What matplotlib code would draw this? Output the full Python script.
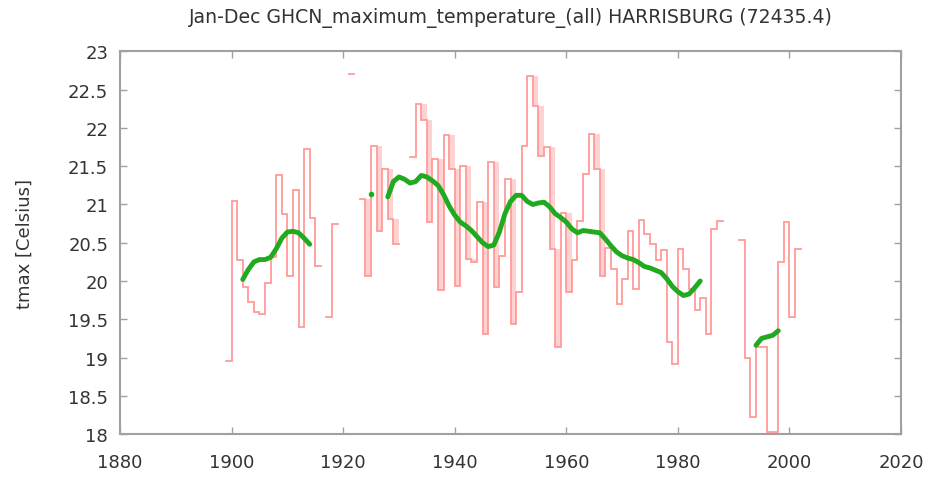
import matplotlib
matplotlib.use('Agg')
import matplotlib.pyplot as plt
import numpy as np
from matplotlib import ticker

nan = np.nan

# annual mean of daily max temperature (red steps), year -> value
years = np.arange(1899, 2002)
tmax = np.array([
    18.96,                                                      # 1899
    21.05, 20.28, 19.92, 19.72, 19.60, 19.57, 19.98, 20.31, 21.38, 20.88,  # 1900-1909
    20.07, 21.19, 19.40, 21.72, 20.82, 20.20, nan, 19.53, 20.75, nan,     # 1910-1919
    nan, 22.70, nan, 21.07, 20.07, 21.77, 20.66, 21.47, 20.81, 20.49,     # 1920-1929
    nan, nan, 21.62, 22.31, 22.10, 20.77, 21.60, 19.88, 21.91, 21.47,     # 1930-1939
    19.94, 21.50, 20.29, 20.25, 21.03, 19.31, 21.55, 19.92, 20.33, 21.33, # 1940-1949
    19.44, 19.86, 21.77, 22.68, 22.29, 21.64, 21.75, 20.42, 19.14, 20.89, # 1950-1959
    19.86, 20.27, 20.79, 21.40, 21.92, 21.47, 20.07, 20.43, 20.16, 19.70, # 1960-1969
    20.03, 20.66, 19.90, 20.80, 20.62, 20.49, 20.27, 20.41, 19.20, 18.92, # 1970-1979
    20.42, 20.16, 19.90, 19.62, 19.78, 19.31, 20.68, 20.78, nan, nan,     # 1980-1989
    nan, 20.53, 18.99, 18.22, 19.14, 19.14, 18.03, 18.03, 20.25, 20.77,   # 1990-1999
    19.53, 20.42,                                               # 2000-2001
])

# running mean (green)
smooth_years = np.arange(1902, 1999)
smooth = np.full(len(smooth_years), nan)
smooth[:13] = [20.02, 20.15, 20.25, 20.28, 20.28, 20.31, 20.42, 20.56,
               20.64, 20.65, 20.63, 20.56, 20.48]                 # 1902-1914
smooth[1925 - 1902] = 21.14                                        # 1925
smooth[1928 - 1902:1985 - 1902] = [
    21.10, 21.30, 21.36, 21.33, 21.28, 21.30, 21.38, 21.36, 21.31, 21.25,
    21.13, 20.98, 20.86, 20.77, 20.72, 20.66, 20.58, 20.50, 20.45, 20.47,
    20.64, 20.88, 21.04, 21.12, 21.12, 21.04, 21.00, 21.02, 21.03, 20.97,
    20.88, 20.83, 20.77, 20.68, 20.63, 20.66, 20.65, 20.64, 20.63, 20.55,
    20.46, 20.38, 20.33, 20.30, 20.28, 20.24, 20.19, 20.17, 20.14, 20.11,
    20.03, 19.93, 19.86, 19.81, 19.83, 19.91, 20.00]               # 1928-1984
smooth[1994 - 1902:] = [19.16, 19.25, 19.27, 19.29, 19.35]         # 1994-1998

title = 'Jan-Dec GHCN_maximum_temperature_(all) HARRISBURG (72435.4)'
red = '#ff9a9a'
pink = '#ffd2d2'
green = '#1faa1f'
frame = '#a0a0a0'
txt = '#333333'


def runs(x, y):
    out = []
    cur = []
    for a, b in zip(x, y):
        if np.isnan(b):
            if cur:
                out.append(cur)
            cur = []
        else:
            cur.append((a, b))
    if cur:
        out.append(cur)
    return out


fig = plt.figure(figsize=(9.34, 4.81), dpi=100)
ax = fig.add_axes([0.1285, 0.0956, 0.8362, 0.7953])

# in the middle decades the falling years show up as filled boxes
for i in range(1, len(years)):
    y0 = years[i]
    if y0 < 1923 or y0 > 1966:
        continue
    p, v = tmax[i - 1], tmax[i]
    if np.isnan(p) or np.isnan(v) or v >= p:
        continue
    ax.fill_between([y0, y0 + 1], v, p, color=pink, lw=0)

# steps: each year spans [year, year+1)
for r in runs(years, tmax):
    xs = np.repeat([a for a, _ in r], 2).astype(float)
    xs[1::2] += 1
    ys = np.repeat([b for _, b in r], 2)
    ax.plot(xs, ys, color=red, lw=1.3, solid_joinstyle='miter')

for r in runs(smooth_years, smooth):
    gx = [a for a, _ in r]
    gy = [b for _, b in r]
    if len(r) == 1:
        ax.plot(gx, gy, 'o', color=green, ms=4, mec='none')
    else:
        ax.plot(gx, gy, color=green, lw=3.5, solid_capstyle='round')

ax.set_xlim(1880, 2020)
ax.set_ylim(18, 23)
ax.xaxis.set_major_locator(ticker.MultipleLocator(20))
ax.yaxis.set_major_locator(ticker.MultipleLocator(0.5))
ax.yaxis.set_major_formatter(ticker.FormatStrFormatter('%g'))
ax.tick_params(direction='in', top=True, right=True, length=5, width=1,
               color=frame, labelcolor=txt, labelsize=13)
ax.tick_params(axis='x', pad=14)
ax.tick_params(axis='y', pad=8.5)
for s in ax.spines.values():
    s.set_color(frame)
    s.set_linewidth(1.5)

ax.set_ylabel('tmax [Celsius]', fontsize=13, color=txt)
ax.yaxis.set_label_coords(-0.111, 0.5)
fig.text(0.5466, 0.962, title, ha='center', va='center', fontsize=13.6,
         color=txt)

fig.savefig('out.png', dpi=100)
